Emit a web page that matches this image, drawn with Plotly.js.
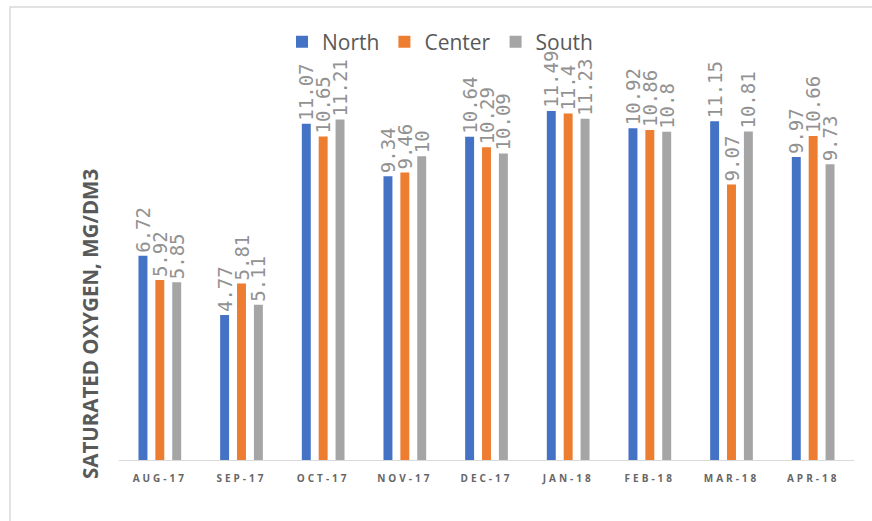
<!DOCTYPE html>
<html>
<head>
<meta charset="utf-8">
<script src="https://cdn.plot.ly/plotly-3.0.1.min.js"></script>
<style>
  html, body { margin: 0; padding: 0; background: #ffffff; }
  #chart { width: 872px; height: 521px; }
  /* spaced-out month labels under the axis */
  .xtick text { letter-spacing: 3px; }
</style>
</head>
<body>
<div id="chart"></div>
<script>
// Monthly saturated oxygen readings per sampling zone
const months = ['AUG-17', 'SEP-17', 'OCT-17', 'NOV-17', 'DEC-17', 'JAN-18', 'FEB-18', 'MAR-18', 'APR-18'];
const north  = [6.72, 4.77, 11.07, 9.34, 10.64, 11.49, 10.92, 11.15, 9.97];
const center = [5.92, 5.81, 10.65, 9.46, 10.29, 11.4, 10.86, 9.07, 10.66];
const south  = [5.85, 5.11, 11.21, 10, 10.09, 11.23, 10.8, 10.81, 9.73];

const seriesNames = ['North', 'Center', 'South'];
const seriesColors = ['#4472C4', '#ED7D31', '#A5A5A5'];
const seriesValues = [north, center, south];

const labelFont = { family: 'DejaVu Sans Mono', size: 19, color: '#929292' };

const traces = seriesValues.map((vals, i) => ({
  type: 'bar',
  name: seriesNames[i],
  x: months,
  y: vals,
  text: vals.map(v => String(v)),
  textposition: 'outside',
  textangle: -90,
  constraintext: 'none',
  cliponaxis: false,
  textfont: labelFont,
  marker: { color: seriesColors[i] },
  hoverinfo: 'x+y+name'
}));

// plot area spans x 119..854 px and y 65..460 px
const L = 119, R = 854, T = 65, B = 460, W = 872, H = 521;
const px = x => (x - L) / (R - L);
const py = y => (B - y) / (B - T);

const layout = {
  width: W,
  height: H,
  margin: { l: L, r: W - R, t: T, b: H - B },
  paper_bgcolor: '#ffffff',
  plot_bgcolor: '#ffffff',
  barmode: 'group',
  bargap: 0.38,
  bargroupgap: 0.47,
  showlegend: true,
  legend: {
    orientation: 'h',
    x: px(282),
    xanchor: 'left',
    y: py(42),
    yanchor: 'middle',
    font: { family: 'Open Sans', size: 21, color: '#595959' },
    itemwidth: 30,
    bgcolor: 'rgba(0,0,0,0)'
  },
  xaxis: {
    type: 'category',
    showline: true,
    linecolor: '#d9d9d9',
    linewidth: 1,
    showgrid: false,
    zeroline: false,
    ticks: '',
    ticklabelstandoff: 9,
    tickfont: { family: 'Open Sans', size: 10, color: '#666666', weight: 'bold' }
  },
  yaxis: {
    range: [0, 13],
    visible: false,
    showgrid: false,
    zeroline: false
  },
  annotations: [{
    text: 'SATURATED OXYGEN, MG/DM3',
    xref: 'paper', yref: 'paper',
    x: px(90), y: py(324),
    xanchor: 'center', yanchor: 'middle',
    textangle: -90,
    showarrow: false,
    font: { family: 'Open Sans', size: 20.5, color: '#595959', weight: 'bold' }
  }],
  shapes: [{
    type: 'rect',
    xref: 'paper', yref: 'paper',
    x0: px(10), x1: px(900),
    y0: py(540), y1: py(7),
    line: { color: '#d9d9d9', width: 1.5 },
    fillcolor: 'rgba(0,0,0,0)',
    layer: 'below'
  }]
};

Plotly.newPlot('chart', traces, layout, { displayModeBar: false, staticPlot: true });
</script>
</body>
</html>
